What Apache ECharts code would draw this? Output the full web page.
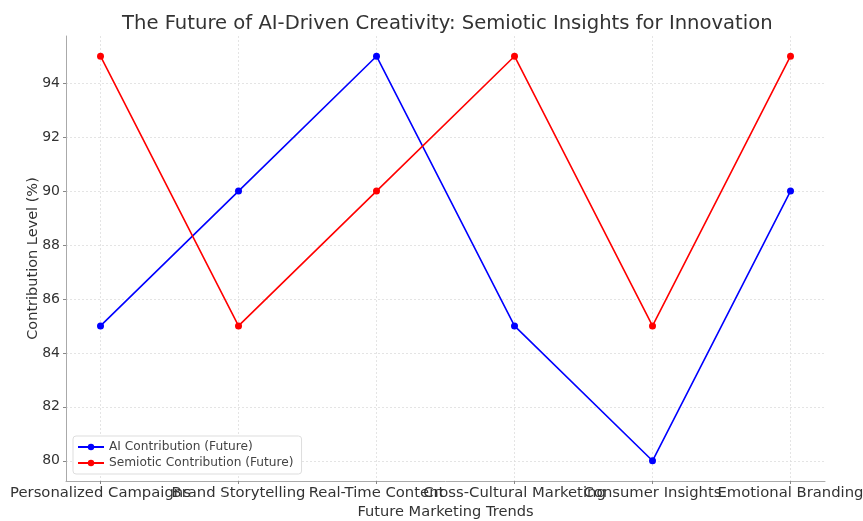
<!DOCTYPE html>
<html>
<head>
<meta charset="utf-8">
<script src="https://cdn.jsdelivr.net/npm/echarts@6/dist/echarts.min.js"></script>
<style>
  html, body { margin: 0; padding: 0; background: #fff; }
  #chart { width: 863px; height: 521px; }
</style>
</head>
<body>
<div id="chart"></div>
<script>
// chart data
const categories = ['Personalized Campaigns', 'Brand Storytelling', 'Real-Time Content',
  'Cross-Cultural Marketing', 'Consumer Insights', 'Emotional Branding']
const aiContribution = [85, 90, 95, 85, 80, 90]
const semioticContribution = [95, 85, 90, 95, 85, 95]
const yTicks = [80, 82, 84, 86, 88, 90, 92, 94]

const font = 'DejaVu Sans'
const chart = echarts.init(document.getElementById('chart'))

const toPoints = vals => vals.map((v, i) => [i, v])
const xTicks = categories.map((c, i) => i)
// labels overlap like in the original, so split them over two stacked axes
const evenTicks = xTicks.filter(i => i % 2 === 0)
const oddTicks = xTicks.filter(i => i % 2 === 1)

const labelStyle = ticks => ({
  customValues: ticks,
  showMinLabel: true,
  showMaxLabel: true,
  hideOverlap: false,
  formatter: v => categories[Math.round(v)],
  fontFamily: font, fontSize: 14.8, color: '#333', margin: 5
})

const option = {
  animation: false,
  textStyle: { fontFamily: font },
  title: {
    text: 'The Future of AI-Driven Creativity: Semiotic Insights for Innovation',
    left: 117,
    top: 9,
    textStyle: { fontFamily: font, fontSize: 19.6, fontWeight: 'normal', color: '#333' }
  },
  legend: {
    orient: 'vertical',
    left: 73,
    bottom: 47,
    itemWidth: 26,
    itemHeight: 8,
    itemGap: 4,
    padding: [5, 8, 5, 4],
    backgroundColor: '#fff',
    borderColor: '#ddd',
    borderWidth: 1,
    borderRadius: 3,
    textStyle: { fontFamily: font, fontSize: 12.2, color: '#444' },
    data: ['AI Contribution (Future)', 'Semiotic Contribution (Future)']
  },
  grid: { left: 66, right: 38, top: 36, bottom: 40, containLabel: false, outerBoundsMode: 'none' },
  xAxis: [
    {
      type: 'value',
      min: -0.25,
      max: 5.25,
      position: 'bottom',
      name: 'Future Marketing Trends',
      nameLocation: 'middle',
      nameGap: 24,
      nameMoveOverlap: false,
      nameTextStyle: { fontFamily: font, fontSize: 14.6, color: '#333' },
      axisLine: { onZero: false, lineStyle: { color: '#aaa', width: 1 } },
      axisTick: { show: true, length: 3, customValues: xTicks, lineStyle: { color: '#888' } },
      axisLabel: labelStyle(evenTicks),
      splitLine: { show: true, lineStyle: { type: [2, 2], color: '#ddd', width: 0.8 } }
    },
    {
      type: 'value',
      min: -0.25,
      max: 5.25,
      position: 'bottom',
      offset: 0,
      axisLine: { show: false, onZero: false },
      axisTick: { show: false },
      axisLabel: labelStyle(oddTicks),
      splitLine: { show: false }
    }
  ],
  yAxis: {
    type: 'value',
    min: 79.25,
    max: 95.75,
    name: 'Contribution Level (%)',
    nameLocation: 'middle',
    nameGap: 25,
    nameMoveOverlap: false,
    nameTextStyle: { fontFamily: font, fontSize: 14.5, color: '#333' },
    axisLine: { show: true, onZero: false, lineStyle: { color: '#aaa', width: 1 } },
    axisTick: { show: true, length: 3, customValues: yTicks, lineStyle: { color: '#888' } },
    axisLabel: { customValues: yTicks, fontFamily: font, fontSize: 14, color: '#333', margin: 6 },
    splitLine: { show: true, lineStyle: { type: [2, 2], color: '#ddd', width: 0.8 } }
  },
  series: [
    {
      name: 'AI Contribution (Future)',
      type: 'line',
      data: toPoints(aiContribution),
      symbol: 'circle',
      symbolSize: 7,
      itemStyle: { color: '#0000ff' },
      lineStyle: { width: 1.6, color: '#0000ff' }
    },
    {
      name: 'Semiotic Contribution (Future)',
      type: 'line',
      data: toPoints(semioticContribution),
      symbol: 'circle',
      symbolSize: 7,
      itemStyle: { color: '#ff0000' },
      lineStyle: { width: 1.6, color: '#ff0000' }
    }
  ]
}

chart.setOption(option)
window.addEventListener('resize', () => chart.resize())
</script>
</body>
</html>
